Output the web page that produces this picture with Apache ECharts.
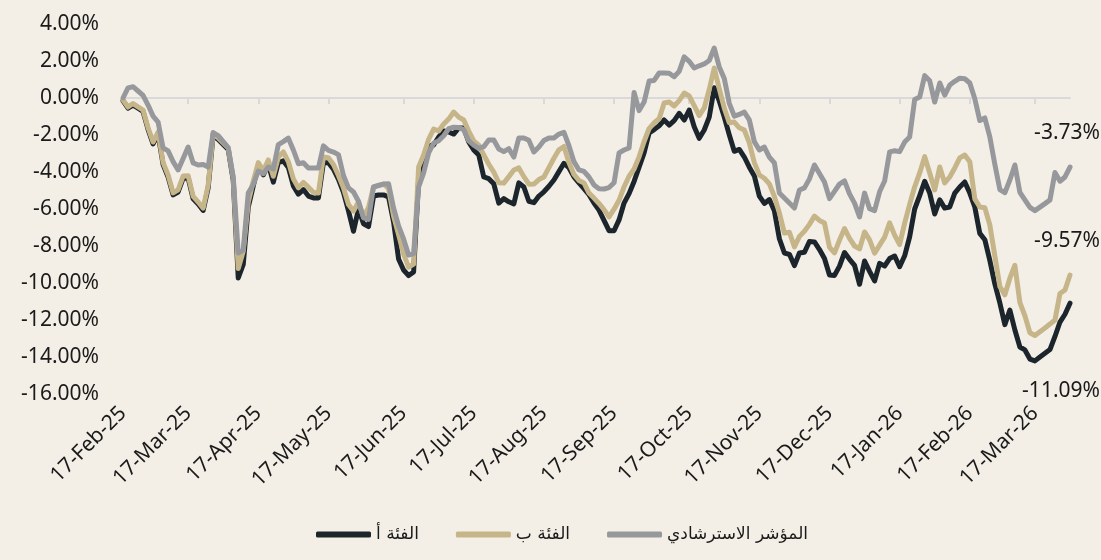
<!DOCTYPE html>
<html>
<head>
<meta charset="utf-8">
<script src="https://cdn.jsdelivr.net/npm/echarts@6/dist/echarts.min.js"></script>
<style>
  html, body { margin: 0; padding: 0; background: #f3efe7; }
  #chart { width: 1101px; height: 560px; }
</style>
</head>
<body>
<div id="chart"></div>
<script>
// x labels sit on these category positions (ticks use the same ones)
var dateLabels = ['17-Feb-25', '17-Mar-25', '17-Apr-25', '17-May-25', '17-Jun-25', '17-Jul-25', '17-Aug-25',
    '17-Sep-25', '17-Oct-25', '17-Nov-25', '17-Dec-25', '17-Jan-26', '17-Feb-26', '17-Mar-26'];
var labelIdx = [0, 13, 27, 41, 56, 70, 84, 98, 113, 127, 141, 155, 169, 182];

var seriesNames = ['الفئة أ', 'الفئة ب', 'المؤشر الاسترشادي'];

// الفئة أ
var classA = [
    -0.15, -0.55, -0.38, -0.55, -0.73, -1.70, -2.48, -1.95, -3.60, -4.27,
    -5.24, -5.08, -4.35, -4.32, -5.45, -5.73, -6.08, -4.85, -1.97, -2.24,
    -2.51, -2.78, -4.45, -9.73, -9.00, -5.90, -4.75, -3.65, -4.15, -3.60,
    -4.55, -3.50, -3.40, -3.75, -4.75, -5.20, -4.95, -5.30, -5.40, -5.40,
    -3.50, -3.50, -3.85, -4.40, -5.10, -6.10, -7.20, -6.00, -6.80, -6.95,
    -5.30, -5.24, -5.24, -5.35, -6.70, -8.70, -9.30, -9.60, -9.40, -4.40,
    -3.51, -2.59, -2.54, -2.11, -1.78, -1.84, -1.95, -1.62, -1.62, -2.38,
    -2.81, -3.08, -4.27, -4.36, -4.64, -5.68, -5.44, -5.61, -5.72, -4.59,
    -4.81, -5.58, -5.66, -5.30, -5.07, -4.77, -4.43, -3.98, -3.53, -3.77,
    -4.26, -4.59, -4.90, -5.23, -5.68, -6.06, -6.61, -7.17, -7.18, -6.59,
    -5.68, -5.17, -4.51, -3.74, -2.97, -1.89, -1.71, -1.50, -1.19, -1.46,
    -1.22, -0.83, -1.19, -0.65, -1.55, -2.18, -1.73, -1.03, 0.55, -0.16,
    -1.03, -1.99, -2.88, -2.78, -3.19, -3.74, -4.21, -5.30, -5.70, -5.49,
    -6.10, -7.61, -8.38, -8.45, -9.06, -8.38, -8.34, -7.76, -7.78, -8.19,
    -8.68, -9.57, -9.59, -9.09, -8.35, -8.72, -9.05, -10.07, -8.81, -9.37,
    -9.89, -8.94, -9.08, -8.68, -8.54, -9.12, -8.53, -7.50, -6.00, -5.28,
    -4.50, -5.14, -6.27, -5.51, -5.95, -5.89, -5.14, -4.81, -4.54, -5.14,
    -5.89, -7.32, -7.66, -8.78, -10.05, -11.08, -12.25, -11.46, -12.54, -13.46,
    -13.62, -14.11, -14.21, -14.00, -13.80, -13.60, -12.89, -12.11, -11.69, -11.09
];

// الفئة ب
var classB = [
    -0.11, -0.49, -0.30, -0.48, -0.65, -1.61, -2.38, -1.84, -3.49, -4.16,
    -5.13, -4.96, -4.22, -4.20, -5.32, -5.62, -5.95, -4.72, -1.89, -2.16,
    -2.43, -2.70, -4.32, -9.22, -8.29, -5.63, -4.49, -3.49, -3.94, -3.35,
    -4.23, -3.19, -2.92, -3.44, -4.37, -4.86, -4.56, -4.82, -5.10, -5.14,
    -3.19, -3.23, -3.59, -4.19, -4.86, -5.76, -6.11, -5.62, -6.43, -5.92,
    -4.80, -4.72, -4.65, -4.89, -6.38, -7.39, -8.42, -9.14, -8.98, -3.73,
    -3.08, -2.23, -1.68, -1.78, -1.41, -1.14, -0.76, -1.03, -1.19, -1.79,
    -2.32, -2.55, -3.07, -3.58, -4.01, -4.58, -4.60, -4.25, -3.89, -3.78,
    -4.25, -4.66, -4.65, -4.41, -4.27, -3.76, -3.26, -2.80, -2.62, -3.49,
    -4.13, -4.46, -4.59, -5.14, -5.41, -5.70, -6.03, -6.43, -6.01, -5.53,
    -4.81, -4.23, -3.84, -3.18, -2.35, -1.65, -1.34, -1.12, -0.27, -0.22,
    -0.43, -0.14, 0.27, 0.11, -0.41, -0.95, -0.54, 0.46, 1.62, 0.50,
    -0.55, -1.34, -1.30, -1.61, -1.73, -2.43, -3.49, -4.16, -4.34, -4.64,
    -5.32, -6.22, -7.30, -7.26, -8.05, -7.48, -7.20, -6.83, -6.38, -6.62,
    -6.76, -8.07, -8.37, -7.68, -7.06, -7.59, -8.00, -8.16, -7.24, -7.67,
    -8.39, -7.95, -7.52, -6.75, -7.41, -7.92, -6.76, -5.75, -4.80, -4.05,
    -3.17, -4.05, -4.97, -3.73, -4.59, -4.27, -3.78, -3.24, -3.08, -3.44,
    -5.45, -5.89, -5.93, -6.86, -8.54, -10.19, -10.64, -9.74, -9.04, -11.06,
    -11.77, -12.69, -12.84, -12.63, -12.43, -12.22, -12.00, -10.57, -10.38, -9.57
];

// المؤشر الاسترشادي
var benchmark = [
    0.00, 0.55, 0.61, 0.38, 0.14, -0.38, -0.98, -1.30, -2.70, -2.86,
    -3.44, -3.89, -3.27, -2.65, -3.51, -3.62, -3.60, -3.73, -1.87, -2.03,
    -2.36, -2.68, -4.27, -8.38, -8.22, -5.14, -4.67, -3.95, -4.09, -3.73,
    -3.84, -2.52, -2.36, -2.17, -2.81, -3.55, -3.50, -3.78, -3.78, -3.78,
    -2.59, -2.83, -2.92, -3.06, -4.19, -4.86, -5.08, -5.58, -6.48, -6.56,
    -4.81, -4.73, -4.65, -4.63, -5.94, -6.92, -7.62, -8.49, -8.41, -4.81,
    -4.05, -2.97, -2.44, -2.31, -2.04, -1.66, -1.58, -1.60, -1.71, -2.32,
    -2.55, -2.72, -2.63, -2.27, -2.27, -2.76, -2.90, -2.74, -3.19, -2.16,
    -2.16, -2.29, -2.92, -2.65, -2.30, -2.16, -2.16, -1.95, -1.86, -2.58,
    -3.44, -3.89, -3.97, -4.27, -4.70, -4.90, -4.92, -4.84, -4.58, -2.97,
    -2.81, -2.70, 0.30, -0.68, -0.22, 0.92, 0.95, 1.35, 1.35, 1.34,
    1.15, 1.44, 2.22, 1.98, 1.62, 1.74, 1.84, 2.03, 2.70, 1.68,
    1.06, -0.29, -0.98, -0.89, -0.76, -1.18, -2.36, -2.81, -2.65, -3.19,
    -3.51, -5.14, -5.41, -5.68, -5.95, -4.97, -4.86, -4.37, -3.62, -4.08,
    -4.54, -5.44, -5.05, -4.65, -4.48, -5.18, -5.68, -6.43, -5.14, -5.98,
    -6.09, -5.07, -4.49, -2.91, -2.85, -2.90, -2.38, -2.11, -0.08, 0.05,
    1.21, 0.93, -0.22, 0.81, 0.16, 0.70, 0.90, 1.07, 1.04, 0.81,
    -0.04, -1.22, -1.08, -2.10, -3.59, -4.95, -5.12, -4.43, -3.62, -5.10,
    -5.51, -5.91, -6.09, -5.90, -5.71, -5.51, -4.03, -4.50, -4.27, -3.73
];

var categories = classA.map(function (v, i) {
    var k = labelIdx.indexOf(i);
    return k >= 0 ? dateLabels[k] : '';
});

var numFont = 'Noto Sans';
var txtColor = '#1a1a1a';

function pct(v) {
    return v.toFixed(2) + '%';
}

function lineSeries(name, data, color, endOffset) {
    return {
        name: name,
        type: 'line',
        data: data,
        showSymbol: false,
        symbol: 'none',
        lineStyle: { color: color, width: 5, cap: 'round', join: 'round' },
        itemStyle: { color: color },
        endLabel: {
            show: true,
            formatter: function (p) { return pct(p.value); },
            align: 'right',
            verticalAlign: 'middle',
            distance: 0,
            offset: endOffset,
            fontFamily: numFont,
            fontSize: 21,
            color: txtColor
        }
    };
}

var chart = echarts.init(document.getElementById('chart'));
chart.setOption({
    backgroundColor: '#f3efe7',
    animation: false,
    grid: { left: 123, right: 31, top: 24, bottom: 166 },
    legend: {
        left: 311,
        top: 521,
        icon: 'roundRect',
        itemWidth: 55,
        itemHeight: 6,
        itemGap: 37,
        data: seriesNames,
        textStyle: { fontFamily: 'DejaVu Sans', fontSize: 17, color: txtColor }
    },
    xAxis: [{
        type: 'category',
        data: categories,
        boundaryGap: false,
        position: 'bottom',
        axisLine: { show: false, onZero: false },
        axisTick: { show: false },
        axisLabel: {
            interval: function (i, v) { return v !== ''; },
            rotate: 45,
            margin: 16,
            fontFamily: numFont,
            fontSize: 21,
            color: txtColor
        }
    }, {
        // zero line with its tick marks
        type: 'category',
        data: categories,
        boundaryGap: false,
        position: 'top',
        axisLine: { show: true, onZero: true, lineStyle: { color: '#d9d9d9', width: 2 } },
        axisTick: {
            show: true,
            inside: true,
            length: 6,
            interval: function (i) { return i > 0 && labelIdx.indexOf(i) >= 0; },
            lineStyle: { color: '#d9d9d9', width: 2 }
        },
        axisLabel: { show: false }
    }],
    yAxis: {
        type: 'value',
        min: -16,
        max: 4,
        interval: 2,
        splitLine: { show: false },
        axisLine: { show: false },
        axisTick: { show: false },
        axisLabel: {
            formatter: pct,
            margin: 24,
            fontFamily: numFont,
            fontSize: 21,
            color: txtColor
        }
    },
    series: [
        lineSeries(seriesNames[0], classA, '#1c252c', [30, 88]),
        lineSeries(seriesNames[1], classB, '#c6b588', [30, -34]),
        lineSeries(seriesNames[2], benchmark, '#97989c', [30, -34])
    ]
});
</script>
</body>
</html>
